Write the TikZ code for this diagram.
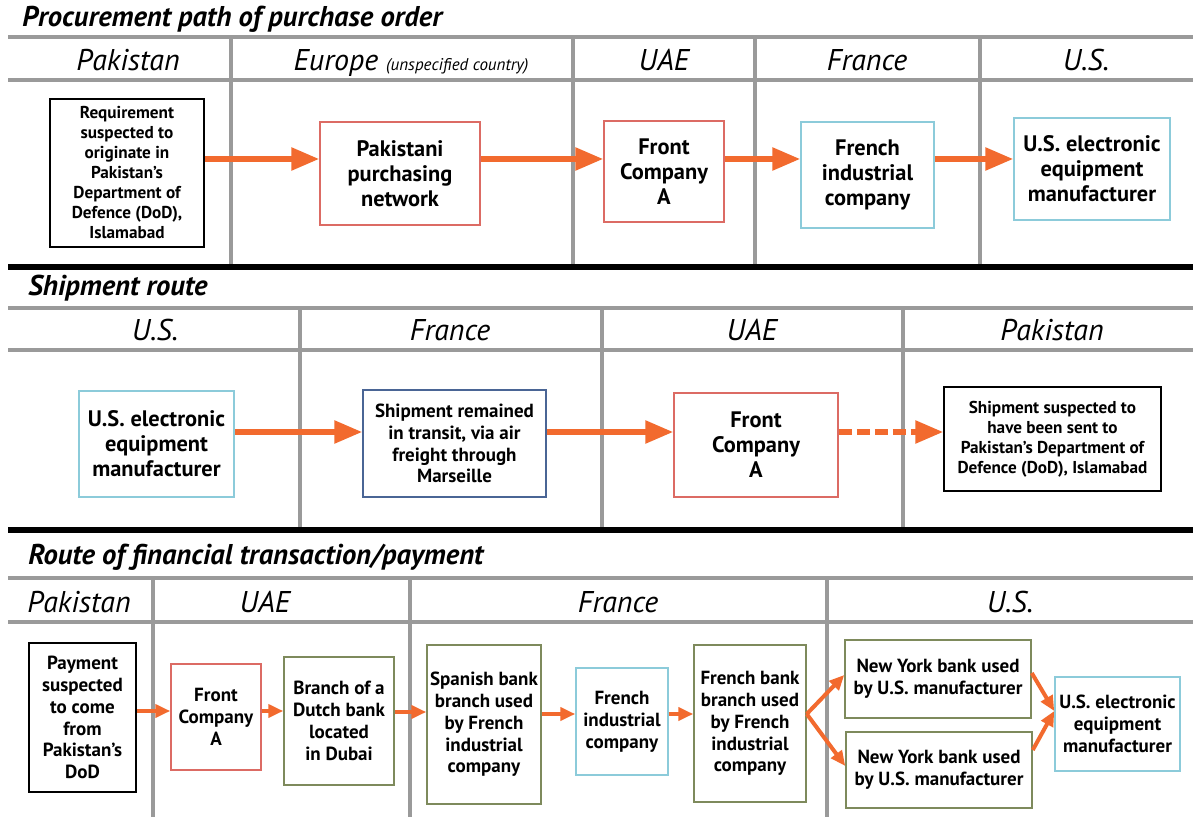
\documentclass[tikz,border=0pt]{standalone}
\usepackage{fontspec}
\setmainfont{PT Sans}
\definecolor{RouteOrange}{HTML}{F26A2E}
\definecolor{GridGrey}{HTML}{9A9A9A}
\definecolor{FrontRed}{HTML}{DC6B64}
\definecolor{FirmCyan}{HTML}{8CCBDA}
\definecolor{BankOlive}{HTML}{7E8A5C}
\definecolor{TransitBlue}{HTML}{4A6595}
\usepackage{tikz}
\usetikzlibrary{arrows.meta,calc}

\begin{document}
\begin{tikzpicture}[
    x=0.5pt, y=-0.5pt,
    gridline/.style={draw=GridGrey, line width=2pt},
    splitline/.style={draw=black, line width=3pt},
    heading/.style={anchor=base west, inner sep=0pt, font=\fontsize{14.3}{17}\selectfont\bfseries\itshape},
    country/.style={anchor=base, font=\fontsize{15}{18}\selectfont\itshape},
    box/.style={draw, fill=white, line width=0.75pt, inner sep=1pt, align=center},
    bigtext/.style={font=\fontsize{11.2}{12.5}\selectfont\bfseries},
    midtext/.style={font=\fontsize{9.5}{10.9}\selectfont\bfseries},
    smalltext/.style={font=\fontsize{8.6}{10}\selectfont\bfseries},
    flowarrow/.style={draw=RouteOrange, line width=2.8pt, -{Triangle[length=14pt,width=11pt]}},
    payarrow/.style={draw=RouteOrange, line width=2pt, -{Triangle[length=7.5pt,width=6.5pt]}}
  ]
  \useasboundingbox[fill=white] (0,0) rectangle (1193,817);

  % procurement path
  \node[heading] (procTitle) at (22,27) {Procurement path of purchase order};
  \draw[gridline] (8,37) -- (1193,37);
  \draw[gridline] (8,80) -- (1193,80);
  \foreach \xcol in {231,573,755,980}
    \draw[gridline] (\xcol,37) -- (\xcol,265);
  \draw[splitline] (8,267) -- (1193,267);
  \node[country] (procPak) at (128,71) {Pakistan};
  \node[country] (procEur) at (411,71) {Europe {\fontsize{8.5}{10}\selectfont(unspecified country)}};
  \node[country] (procUae) at (664,71) {UAE};
  \node[country] (procFra) at (867,71) {France};
  \node[country] (procUs) at (1086,71) {U.S.};

  \node[box, smalltext, minimum width=77pt, minimum height=74pt] (req) at (127,173)
    {Requirement\\suspected to\\originate in\\Pakistan’s\\Department of\\Defence (DoD),\\Islamabad};
  \node[box, bigtext, draw=FrontRed, minimum width=80pt, minimum height=51.5pt] (pnet) at (400,173.5)
    {Pakistani\\purchasing\\network};
  \node[box, bigtext, draw=FrontRed, minimum width=60pt, minimum height=50.5pt] (frontA) at (664,171.5)
    {Front\\Company\\A};
  \node[box, bigtext, draw=FirmCyan, minimum width=66.5pt, minimum height=53pt] (frenchCo) at (867.5,175)
    {French\\industrial\\company};
  \node[box, bigtext, draw=FirmCyan, minimum width=78pt, minimum height=51pt] (usMaker) at (1092,169)
    {U.S. electronic\\equipment\\manufacturer};

  \coordinate (laneA) at (0,159);
  \draw[flowarrow] (req.east |- laneA) -- (pnet.west |- laneA);
  \draw[flowarrow] (pnet.east |- laneA) -- (frontA.west |- laneA);
  \draw[flowarrow] (frontA.east |- laneA) -- (frenchCo.west |- laneA);
  \draw[flowarrow] (frenchCo.east |- laneA) -- (usMaker.west |- laneA);

  % shipment route
  \node[heading] (shipTitle) at (28,296) {Shipment route};
  \draw[gridline] (8,308) -- (1193,308);
  \draw[gridline] (8,350) -- (1193,350);
  \foreach \xcol in {300,602,903}
    \draw[gridline] (\xcol,308) -- (\xcol,528);
  \draw[splitline] (8,530) -- (1193,530);
  \node[country] (shipUs) at (155,341) {U.S.};
  \node[country] (shipFra) at (450,341) {France};
  \node[country] (shipUae) at (752,341) {UAE};
  \node[country] (shipPak) at (1052,341) {Pakistan};

  \node[box, bigtext, draw=FirmCyan, minimum width=77.5pt, minimum height=53pt] (usShip) at (156.5,444)
    {U.S. electronic\\equipment\\manufacturer};
  \node[box, midtext, draw=TransitBlue, minimum width=91.5pt, minimum height=53.5pt] (transit) at (454.5,443.5)
    {Shipment remained\\in transit, via air\\freight through\\Marseille};
  \node[box, bigtext, draw=FrontRed, minimum width=82pt, minimum height=52pt] (frontB) at (756,445)
    {Front\\Company\\A};
  \node[box, smalltext, minimum width=108.5pt, minimum height=52pt] (dodShip) at (1052.5,439)
    {Shipment suspected to\\have been sent to\\Pakistan’s Department of\\Defence (DoD), Islamabad};

  \coordinate (laneB) at (0,432);
  \draw[flowarrow] (usShip.east |- laneB) -- (transit.west |- laneB);
  \draw[flowarrow] (transit.east |- laneB) -- (frontB.west |- laneB);
  \draw[flowarrow, dash pattern=on 6.5pt off 2.5pt] (frontB.east |- laneB) -- (dodShip.west |- laneB);

  % financial transaction
  \node[heading] (payTitle) at (28,564) {Route of financial transaction/payment};
  \draw[gridline] (8,578) -- (1193,578);
  \draw[gridline] (8,622) -- (1193,622);
  \foreach \xcol in {153,410,827}
    \draw[gridline] (\xcol,578) -- (\xcol,817);
  \node[country] (payPak) at (79,612) {Pakistan};
  \node[country] (payUae) at (265,612) {UAE};
  \node[country] (payFra) at (618,612) {France};
  \node[country] (payUs) at (1010,612) {U.S.};

  \node[box, midtext, minimum width=53.5pt, minimum height=74.5pt] (payDoD) at (82.5,717.5)
    {Payment\\suspected\\to come\\from\\Pakistan’s\\DoD};
  \node[box, midtext, draw=FrontRed, minimum width=45pt, minimum height=53pt] (frontC) at (216,717)
    {Front\\Company\\A};
  \node[box, midtext, draw=BankOlive, minimum width=55pt, minimum height=64pt] (dutchBank) at (339,721)
    {Branch of a\\Dutch bank\\located\\in Dubai};
  \node[box, midtext, draw=BankOlive, minimum width=57pt, minimum height=79.5pt] (spanBank) at (484,724.5)
    {Spanish bank\\branch used\\by French\\industrial\\company};
  \node[box, midtext, draw=FirmCyan, minimum width=46pt, minimum height=53.5pt] (frenchPay) at (622,721.5)
    {French\\industrial\\company};
  \node[box, midtext, draw=BankOlive, minimum width=56pt, minimum height=78.5pt] (frenchBank) at (750,723.5)
    {French bank\\branch used\\by French\\industrial\\company};
  \node[box, midtext, draw=BankOlive, minimum width=93pt, minimum height=39pt] (nyBankA) at (938,679)
    {New York bank used\\by U.S. manufacturer};
  \node[box, midtext, draw=BankOlive, minimum width=93pt, minimum height=38pt] (nyBankB) at (939,770)
    {New York bank used\\by U.S. manufacturer};
  \node[box, midtext, draw=FirmCyan, minimum width=62.5pt, minimum height=47pt] (usPaid) at (1117.5,724)
    {U.S. electronic\\equipment\\manufacturer};

  \coordinate (laneC) at (0,711);
  \draw[payarrow] (payDoD.east |- laneC) -- (frontC.west |- laneC);
  \draw[payarrow] (frontC.east |- laneC) -- (dutchBank.west |- laneC);
  \draw[payarrow] ($(dutchBank.east |- laneC)+(0,1)$) -- ($(spanBank.west |- laneC)+(0,1)$);
  \draw[payarrow] ($(spanBank.east |- laneC)+(0,3)$) -- ($(frenchPay.west |- laneC)+(0,3)$);
  \draw[payarrow] ($(frenchPay.east |- laneC)+(0,3)$) -- ($(frenchBank.west |- laneC)+(0,3)$);
  \coordinate (forkPt) at ($(frenchBank.east |- laneC)+(0,3)$);
  \coordinate (joinPt) at ($(usPaid.west |- laneC)$);
  \draw[payarrow] (forkPt) -- ($(nyBankA.west)+(0,-4)$);
  \draw[payarrow] (forkPt) -- ($(nyBankB.west)+(0,-4)$);
  \draw[payarrow] ($(nyBankA.east)+(0,-6)$) -- (joinPt);
  \draw[payarrow] ($(nyBankB.east)+(0,-20)$) -- (joinPt);
\end{tikzpicture}
\end{document}
